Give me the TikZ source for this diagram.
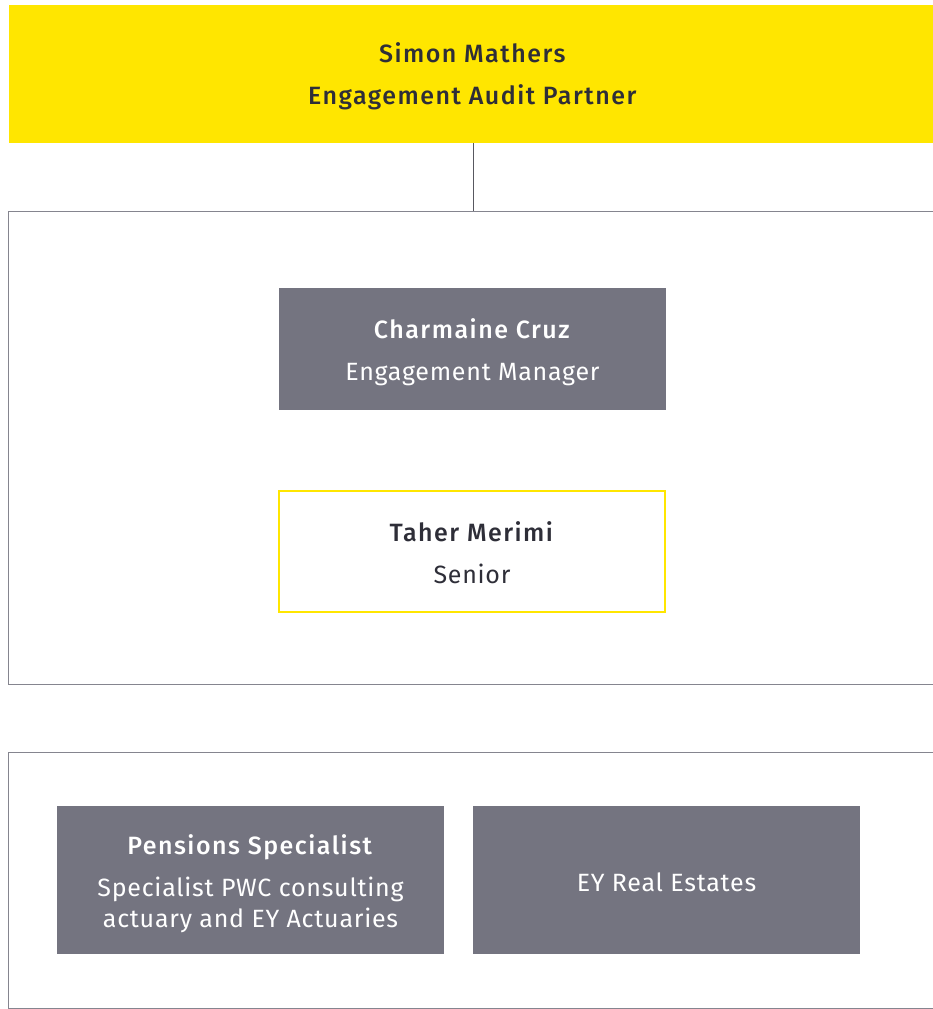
\documentclass[tikz,border=0pt]{standalone}
\usepackage{fontspec}
\setmainfont{Fira Sans}[BoldFont={* Medium}, UprightFeatures={LetterSpace=3}, BoldFeatures={LetterSpace=6}]
\definecolor{eyyellow}{HTML}{FFE600}
\definecolor{eygrey}{HTML}{747480}
\definecolor{eydark}{HTML}{2E2E38}
\definecolor{framegrey}{HTML}{85858F}
\tikzset{
  txt/.style={font=\fontsize{25}{42}\selectfont, align=center, inner sep=0pt},
  greybox/.style={fill=eygrey, minimum width=387pt, inner sep=0pt},
  container/.style={draw=framegrey, line width=1.3pt, inner sep=0pt, anchor=north west},
}
\begin{document}
\begin{tikzpicture}[x=1pt,y=-1pt]
\useasboundingbox (0,0) rectangle (932,1009);
% partner
\node[fill=eyyellow, minimum width=928pt, minimum height=138pt, inner sep=0pt] (partner) at (473,74) {};
\node[txt, text=eydark] (partnertxt) at ([yshift=-2.5pt]partner.center) {\textbf{Simon Mathers}\\\textbf{Engagement Audit Partner}};
% container 1
\node[container, minimum width=940pt, minimum height=473pt] (team) at (8,211) {};
\draw[eydark!80, line width=0.9pt] (partner.south) -- (partner.south |- team.north);
% manager
\node[greybox, minimum height=122pt] (manager) at (472.5,349) {};
\node[txt, text=white] (managertxt) at ([yshift=-3.5pt]manager.center) {\textbf{Charmaine Cruz}\\Engagement Manager};
% senior
\node[draw=eyyellow, line width=2pt, fill=white, minimum width=386pt, minimum height=121pt, inner sep=0pt] (senior) at (472,551.5) {};
\node[txt, text=eydark] (seniortxt) at ([yshift=-1pt]senior.center) {\textbf{Taher Merimi}\\Senior};
% container 2
\node[container, minimum width=940pt, minimum height=256pt] (specialists) at (8,752) {};
% pensions
\node[greybox, minimum height=148pt] (pensions) at (250.5,880) {};
\node[txt, text=white, font=\fontsize{25}{31}\selectfont] (pensionstxt) at ([yshift=-3.5pt]pensions.center) {\textbf{Pensions Specialist}\\[11pt]Specialist PWC consulting\\actuary and EY Actuaries};
% real estate
\node[greybox, minimum height=148pt] (realestate) at (666.5,880) {};
\node[txt, text=white] (realestatetxt) at ([yshift=-2pt]realestate.center) {EY Real Estates};
\end{tikzpicture}
\end{document}
